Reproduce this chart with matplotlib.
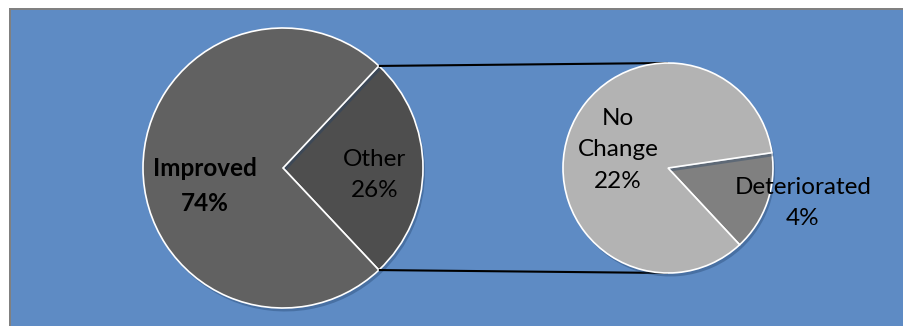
import matplotlib
matplotlib.use("Agg")
import matplotlib.pyplot as plt
import matplotlib.patheffects as pe
import numpy as np

# Outcome shares (percent of all cases)
categories = ["Improved", "No Change", "Deteriorated"]
values = [74, 22, 4]
other_label = "Other"

improved, no_change, deteriorated = values
other = no_change + deteriorated

W, H = 904, 326
fig = plt.figure(figsize=(W / 100, H / 100), dpi=100)
fig.patch.set_facecolor("white")
ax = fig.add_axes([0, 0, 1, 1])

bg = "#5E8BC4"
# framed blue panel
ax.add_patch(plt.Rectangle((9, 0), W, H - 8, facecolor="#808080", edgecolor="none", zorder=0))
ax.add_patch(plt.Rectangle((11, 0), W, H - 10, facecolor=bg, edgecolor="none", zorder=0))

font = ["Lato", "DejaVu Sans"]
shadow = [pe.SimplePatchShadow(offset=(1.5, -2.5), shadow_rgbFace="#1f3f66", alpha=0.35), pe.Normal()]

# primary pie: "Other" wedge centred on the right-hand side
c1, r1 = (283, H - 168), 140
half = 360 * other / 100 / 2
w1, _ = ax.pie([other, improved], colors=["#4E4E4E", "#616161"], startangle=-half,
               center=c1, radius=r1, frame=True,
               wedgeprops=dict(edgecolor="white", linewidth=1.2))
for w in w1:
    w.set_path_effects(shadow)

# secondary pie breaking down "Other"
c2, r2 = (668, H - 168), 105
w2, _ = ax.pie([deteriorated, no_change], colors=["#808080", "#B3B3B3"], startangle=8.4,
               counterclock=False, center=c2, radius=r2, frame=True,
               wedgeprops=dict(edgecolor="white", linewidth=1.2))
for w in w2:
    w.set_path_effects(shadow)
    w.set_zorder(3)

# connector lines from the "Other" wedge to the secondary pie
for sgn in (1, -1):
    a = np.deg2rad(sgn * half)
    x0, y0 = c1[0] + r1 * np.cos(a), c1[1] + r1 * np.sin(a)
    ax.plot([x0, c2[0]], [y0, c2[1] + sgn * r2], color="black", lw=1.5, zorder=1,
            solid_capstyle="butt")

fs = 17.5
ls = 1.6
ax.text(205, H - 186, f"{categories[0]}\n{improved}%", ha="center", va="center",
        fontsize=fs, fontweight="bold", family=font, linespacing=ls, zorder=5)
ax.text(375, H - 175, f"{other_label}\n{other}%", ha="center", va="center",
        fontsize=fs, family=font, linespacing=ls, zorder=5)
ax.text(618, H - 150, f"No\nChange\n{no_change}%", ha="center", va="center",
        fontsize=fs, family=font, linespacing=ls, zorder=5)
ax.text(803, H - 203, f"{categories[2]}\n{deteriorated}%", ha="center", va="center",
        fontsize=fs, family=font, linespacing=ls, zorder=5)

ax.set_xlim(0, W)
ax.set_ylim(0, H)
ax.set_aspect("auto")
ax.axis("off")

fig.savefig("out.png", dpi=100, facecolor=fig.get_facecolor())
